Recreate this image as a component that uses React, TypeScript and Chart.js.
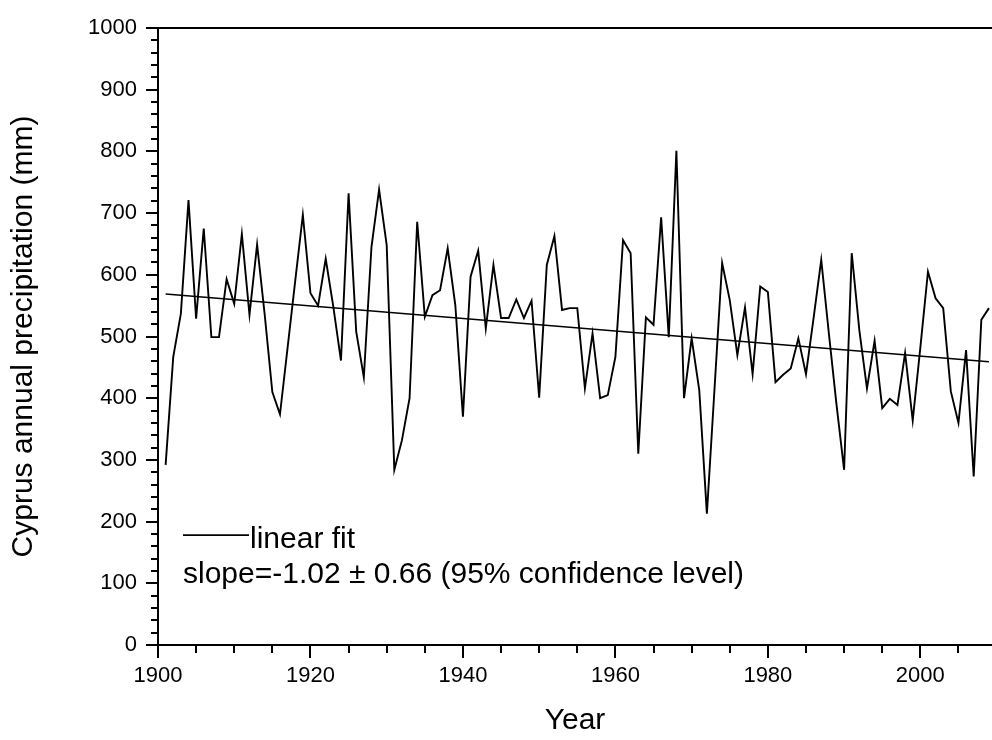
import React, { useEffect, useRef } from "react";
import { Chart, registerables } from "chart.js";

Chart.register(...registerables);

// Annual precipitation over Cyprus (mm), one value per year starting at FIRST_YEAR
const FIRST_YEAR = 1901;
const PRECIP: number[] = [
  // 1901-1910
  292, 467, 537, 721, 529, 675, 499, 499, 593, 553,
  // 1911-1920
  666, 535, 649, 535, 410, 374, 482, 590, 697, 570,
  // 1921-1930
  550, 626, 548, 461, 732, 508, 434, 645, 738, 648,
  // 1931-1940
  284, 332, 400, 686, 532, 567, 575, 643, 551, 370,
  // 1941-1950
  597, 639, 513, 616, 530, 530, 560, 530, 558, 401,
  // 1951-1960
  616, 663, 543, 546, 546, 416, 505, 400, 405, 467,
  // 1961-1970
  656, 635, 310, 531, 519, 693, 499, 801, 400, 497,
  // 1971-1980
  413, 213, 415, 619, 559, 470, 547, 439, 581, 572,
  // 1981-1990
  426, 438, 448, 497, 439, 530, 624, 505, 390, 284,
  // 1991-2000
  635, 510, 416, 493, 384, 399, 389, 473, 364, 482,
  // 2001-2009
  605, 562, 546, 411, 360, 478, 273, 527, 546,
];

// Linear fit end points
const FIT_YEARS = [1901, 2009];
const FIT_VALUES = [569, 459];

// Axis ticks
const X_MAJOR_TICKS = [1900, 1920, 1940, 1960, 1980, 2000];
const Y_MAJOR_TICKS = [0, 100, 200, 300, 400, 500, 600, 700, 800, 900, 1000];
const X_MIN = 1900;
const X_MAX = 2009.4;
const Y_MIN = 0;
const Y_MAX = 1000;
const X_MINOR_STEP = 5;
const Y_MINOR_STEP = 20;

const LEGEND_LABEL = "linear fit";
const SLOPE_TEXT = "slope=-1.02 \u00b1 0.66 (95% confidence level)";
const X_TITLE = "Year";
const Y_TITLE = "Cyprus annual precipitation (mm)";

const FONT = "'Liberation Sans', Arial, sans-serif";

const decorPlugin = {
  id: "decor",
  afterDraw(chart: any) {
    const { ctx, chartArea, scales } = chart;
    const xs = scales.x;
    const ys = scales.y;
    ctx.save();
    ctx.strokeStyle = "#000";
    ctx.lineWidth = 2;
    // top border
    ctx.beginPath();
    ctx.moveTo(chartArea.left - 1, chartArea.top);
    ctx.lineTo(chartArea.right, chartArea.top);
    ctx.stroke();
    // x tick marks (outward)
    for (let v = X_MIN; v <= X_MAX; v += X_MINOR_STEP) {
      const major = v % 20 === 0;
      const px = Math.round(xs.getPixelForValue(v));
      ctx.beginPath();
      ctx.moveTo(px, chartArea.bottom);
      ctx.lineTo(px, chartArea.bottom + (major ? 13 : 8));
      ctx.stroke();
    }
    // y tick marks (outward)
    for (let v = Y_MIN; v <= Y_MAX; v += Y_MINOR_STEP) {
      const major = v % 100 === 0;
      const py = Math.round(ys.getPixelForValue(v));
      ctx.beginPath();
      ctx.moveTo(chartArea.left - (major ? 12 : 7), py);
      ctx.lineTo(chartArea.left, py);
      ctx.stroke();
    }
    // legend
    const lx = chartArea.left + 25;
    const ly = ys.getPixelForValue(178);
    ctx.lineWidth = 1.6;
    ctx.beginPath();
    ctx.moveTo(lx, ly);
    ctx.lineTo(lx + 66, ly);
    ctx.stroke();
    ctx.fillStyle = "#000";
    ctx.font = `30px ${FONT}`;
    ctx.textAlign = "left";
    ctx.textBaseline = "alphabetic";
    ctx.fillText(LEGEND_LABEL, lx + 67, ly + 13);
    ctx.fillText(SLOPE_TEXT, lx, ly + 48);
    ctx.restore();
  },
};

export default function App() {
  const ref = useRef<HTMLCanvasElement>(null);
  useEffect(() => {
    if (!ref.current) return;
    const chart = new Chart(ref.current, {
      type: "line",
      data: {
        datasets: [
          {
            label: "precipitation",
            data: PRECIP.map((v, i) => ({ x: FIRST_YEAR + i, y: v })),
            borderColor: "#000",
            borderWidth: 1.9,
            pointRadius: 0,
            tension: 0,
            fill: false,
          },
          {
            label: LEGEND_LABEL,
            data: FIT_YEARS.map((x, i) => ({ x, y: FIT_VALUES[i] })),
            borderColor: "#000",
            borderWidth: 1.6,
            pointRadius: 0,
            tension: 0,
            fill: false,
          },
        ],
      },
      options: {
        animation: false,
        responsive: false,
        maintainAspectRatio: false,
        layout: { padding: { top: 28, left: 0, right: 0, bottom: 0 } },
        plugins: {
          legend: { display: false },
          tooltip: { enabled: false },
        },
        scales: {
          x: {
            type: "linear",
            min: X_MIN,
            max: X_MAX,
            afterBuildTicks: (s: any) => {
              s.ticks = X_MAJOR_TICKS.map((v) => ({ value: v }));
            },
            afterFit: (s: any) => {
              s.height = 95;
              s.paddingLeft = 0;
              s.paddingRight = 0;
            },
            grid: { display: false, drawTicks: false },
            border: { display: true, color: "#000", width: 2 },
            ticks: {
              autoSkip: false,
              maxRotation: 0,
              padding: 18,
              color: "#000",
              font: { family: FONT, size: 22 },
              callback: (v: any) => String(v),
            },
            title: {
              display: true,
              text: X_TITLE,
              color: "#000",
              font: { family: FONT, size: 30 },
              padding: { top: 0, bottom: 1 },
            },
          },
          y: {
            type: "linear",
            min: Y_MIN,
            max: Y_MAX,
            afterBuildTicks: (s: any) => {
              s.ticks = Y_MAJOR_TICKS.map((v) => ({ value: v }));
            },
            afterFit: (s: any) => {
              s.width = 158;
              s.paddingTop = 0;
              s.paddingBottom = 0;
            },
            grid: { display: false, drawTicks: false },
            border: { display: true, color: "#000", width: 2 },
            ticks: {
              autoSkip: false,
              padding: 21,
              color: "#000",
              font: { family: FONT, size: 22 },
              callback: (v: any) => String(v),
            },
            title: {
              display: true,
              text: Y_TITLE,
              color: "#000",
              font: { family: FONT, size: 30 },
              padding: { top: 6, bottom: 0 },
            },
          },
        },
      },
      plugins: [decorPlugin],
    });
    return () => chart.destroy();
  }, []);
  return (
    <div style={{ position: "fixed", left: 0, top: 0, width: 992, height: 740, background: "#fff" }}>
      <canvas ref={ref} width={992} height={740} style={{ display: "block" }} />
    </div>
  );
}
